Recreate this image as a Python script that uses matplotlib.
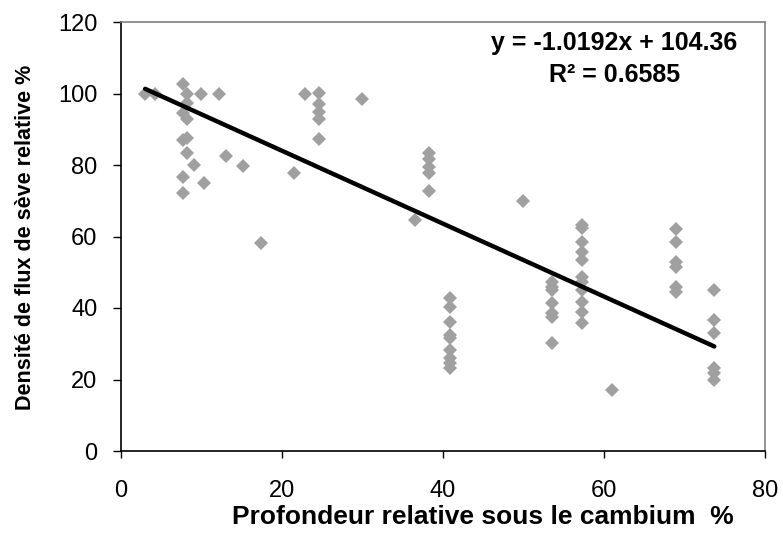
import matplotlib
matplotlib.use("Agg")
import matplotlib.pyplot as plt
import numpy as np

plt.rcParams['font.family'] = ['Liberation Sans', 'DejaVu Sans']

# Data
depth = [3.0, 4.2, 7.7, 8.2, 9.9, 12.2, 8.2, 7.7, 8.2, 7.7, 8.2, 8.2, 13.0, 9.1, 15.1,
         7.7, 10.3, 7.7, 17.4, 21.5, 22.9, 24.6, 24.6, 24.6, 24.6, 24.6, 29.9,
         38.3, 38.3, 38.3, 38.3, 38.3, 36.5, 49.9,
         40.9, 40.9, 40.9, 40.9, 40.9, 40.9, 40.9, 40.9, 40.9,
         53.6, 53.6, 53.6, 53.6, 53.6, 53.6, 53.6,
         57.3, 57.3, 57.3, 57.3, 57.3, 57.3, 57.3, 57.3, 57.3, 57.3, 57.3,
         61.0,
         68.9, 68.9, 68.9, 68.9, 68.9, 68.9,
         73.7, 73.7, 73.7, 73.7, 73.7, 73.7]
flux = [100, 100, 102.7, 100, 100, 100, 97.3, 94.5, 93, 87, 87.5, 83.4, 82.5, 80, 79.8,
        76.7, 75.1, 72.3, 58.1, 77.8, 100, 100.2, 97.2, 94.9, 93, 87.2, 98.5,
        83.4, 81.6, 79.5, 77.7, 72.7, 64.6, 70,
        42.7, 40.4, 36.2, 32.4, 31.5, 28.3, 25.9, 24.5, 23.1,
        47.4, 46, 45, 41.3, 38.5, 37.6, 30.1,
        63.2, 62.3, 58.5, 55.8, 53.4, 48.8, 47.4, 45, 41.8, 39, 35.7,
        17.1,
        62.1, 58.4, 53, 51.5, 46, 44.6,
        45, 36.6, 32.9, 23.1, 21.7, 19.9]
slope = -1.0192
intercept = 104.36
r2 = 0.6585
xticks = [0, 20, 40, 60, 80]
yticks = [0, 20, 40, 60, 80, 100, 120]

W, H = 783, 544
fig = plt.figure(figsize=(W / 100, H / 100), dpi=100)
ax = fig.add_axes([121 / W, 1 - 451 / H, (765 - 121) / W, (451 - 22) / H])

ax.plot(depth, flux, linestyle='none', marker='D', markersize=7.3,
        color='#A0A0A0', markeredgewidth=0, zorder=2)

xl = np.array([min(depth), max(depth)])
ax.plot(xl, slope * xl + intercept, color='black', linewidth=3.2,
        solid_capstyle='round', zorder=3)

ax.set_xlim(0, 80)
ax.set_ylim(0, 120)
ax.set_xticks(xticks)
ax.set_yticks(yticks)
ax.tick_params(axis='both', labelsize=17, direction='out', width=1, color='black')
ax.tick_params(axis='x', length=5, pad=16)
ax.tick_params(axis='y', length=6, pad=11)

ax.spines['left'].set_color('black')
ax.spines['bottom'].set_color('black')
ax.spines['top'].set_color('#808080')
ax.spines['right'].set_color('#808080')
for s in ax.spines.values():
    s.set_linewidth(1.2)

fig.text(483 / W, 1 - 517 / H, 'Profondeur relative sous le cambium  %',
         fontsize=19, fontweight='bold', ha='center', va='center')
fig.text(26 / W, 1 - 237 / H, 'Densité de flux de sève relative %',
         fontsize=15.5, fontweight='bold', ha='center', va='center', rotation=90)

ax.text(0.766, 0.951, 'y = -1.0192x + 104.36', transform=ax.transAxes,
        ha='center', va='center', fontsize=18, fontweight='bold')
ax.text(0.766, 0.876, 'R² = 0.6585', transform=ax.transAxes,
        ha='center', va='center', fontsize=18, fontweight='bold')

fig.savefig('out.png', dpi=100)
